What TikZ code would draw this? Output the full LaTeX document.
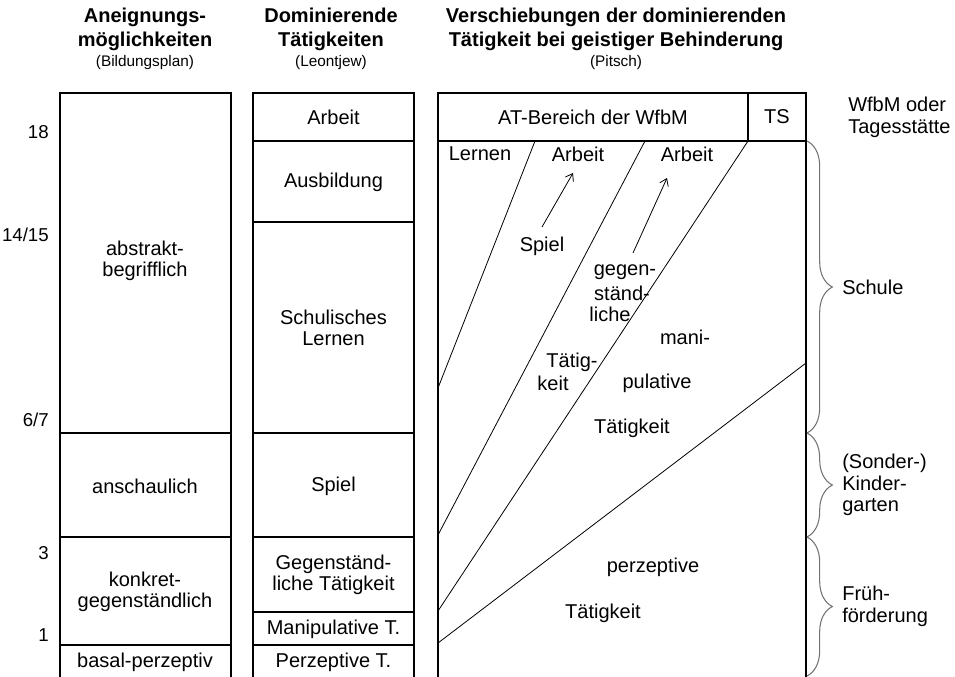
\documentclass[tikz,border=0pt]{standalone}
\usepackage{fontspec}
\setmainfont{Liberation Sans}
\usetikzlibrary{arrows.meta,decorations.pathreplacing}
\begin{document}
\begin{tikzpicture}[x=0.75pt,y=-0.75pt,
  txt/.style={inner sep=0pt, align=center, font=\fontsize{15}{16}\selectfont},
  hdr/.style={inner sep=0pt, align=center, font=\bfseries\fontsize{15}{18}\selectfont},
  subhdr/.style={inner sep=0pt, font=\fontsize{11.5}{13}\selectfont},
  num/.style={inner sep=0pt, anchor=east, font=\fontsize{14}{16}\selectfont},
  side/.style={inner sep=0pt, anchor=west, align=left, font=\fontsize{15}{16.3}\selectfont},
  frame/.style={line width=0.9pt},
  diag/.style={line width=0.6pt},
  arr/.style={line width=0.6pt,-{Straight Barb[length=5pt,width=7pt]}},
  brc/.style={decorate, decoration={brace,amplitude=19pt}, line width=0.8pt, draw=black!55},
]
\useasboundingbox (0,0) rectangle (955,677);

% headers
\node[hdr] (h1) at (145,29) {Aneignungs-\\möglichkeiten};
\node[subhdr] (s1) at (145,63) {(Bildungsplan)};
\node[hdr] (h2) at (331,29) {Dominierende\\Tätigkeiten};
\node[subhdr] (s2) at (331,63) {(Leontjew)};
\node[hdr] (h3) at (616,29) {Verschiebungen der dominierenden\\Tätigkeit bei geistiger Behinderung};
\node[subhdr] (s3) at (616,63) {(Pitsch)};

% age numbers
\node[num] (n18) at (49,132) {18};
\node[num] (n14) at (49,235) {14/15};
\node[num] (n6) at (49,420) {6/7};
\node[num] (n3) at (49,553) {3};
\node[num] (n1) at (49,635) {1};

% column 1
\draw[frame] (60,677) |- (231,93) -- (231,677);
\draw[frame] (60,433) -- (231,433);
\draw[frame] (60,537) -- (231,537);
\draw[frame] (60,645) -- (231,645);
\node[txt] (c1a) at (145,261) {abstrakt-\\begrifflich};
\node[txt] (c1b) at (145,486) {anschaulich};
\node[txt] (c1c) at (145,592) {konkret-\\gegenständlich};
\node[txt] (c1d) at (145,662) {basal-perzeptiv};

% column 2
\draw[frame] (253,677) |- (414,93) -- (414,677);
\foreach \yy in {141,222,433,537,612,645}
  \draw[frame] (253,\yy) -- (414,\yy);
\node[txt] (c2a) at (333.5,117) {Arbeit};
\node[txt] (c2b) at (333.5,182) {Ausbildung};
\node[txt] (c2c) at (333.5,328) {Schulisches\\Lernen};
\node[txt] (c2d) at (333.5,486) {Spiel};
\node[txt] (c2e) at (333.5,575) {Gegenständ-\\liche Tätigkeit};
\node[txt] (c2f) at (333.5,629) {Manipulative T.};
\node[txt] (c2g) at (333.5,662) {Perzeptive T.};

% column 3
\draw[frame] (438,677) |- (806,93) -- (806,677);
\draw[frame] (438,141) -- (806,141);
\draw[frame] (748,93) -- (748,141);
\node[txt] (at) at (593,117) {AT-Bereich der WfbM};
\node[txt] (ts) at (777,117) {TS};

\coordinate (l1b) at (438,388); \coordinate (l1t) at (535,141);
\coordinate (l2b) at (438,535); \coordinate (l2t) at (645,141);
\coordinate (l3b) at (438,611); \coordinate (l3t) at (748,141);
\coordinate (l4b) at (438,643); \coordinate (l4t) at (806,363);
\draw[diag] (l1b) -- (l1t);
\draw[diag] (l2b) -- (l2t);
\draw[diag] (l3b) -- (l3t);
\draw[diag] (l4b) -- (l4t);

\node[txt] (lern) at (480,154) {Lernen};
\node[txt] (arb1) at (578,154) {Arbeit};
\node[txt] (arb2) at (687,154) {Arbeit};
\node[txt] (spiel) at (542,246) {Spiel};
\coordinate (a1s) at (542,227); \coordinate (a1e) at (573,173);
\coordinate (a2s) at (633,253); \coordinate (a2e) at (667,178);
\draw[arr] (a1s) -- (a1e);
\draw[arr] (a2s) -- (a2e);

\node[txt] (g1) at (625,272) {gegen-};
\node[txt] (g2) at (622,293) {ständ-};
\node[txt] (g3) at (610,314) {liche};
\node[txt] (g4) at (572,362) {Tätig-};
\node[txt] (g5) at (553,383) {keit};
\node[txt] (m1) at (685,337) {mani-};
\node[txt] (m2) at (657,383) {pulative};
\node[txt] (m3) at (632,428) {Tätigkeit};
\node[txt] (p1) at (653,567) {perzeptive};
\node[txt] (p2) at (603,613) {Tätigkeit};

% braces
\coordinate (b0) at (807,141);
\coordinate (b1) at (807,433);
\coordinate (b2) at (807,537);
\coordinate (b3) at (807,676);
\draw[brc] (b0) -- (b1);
\draw[brc] (b1) -- (b2);
\draw[brc] (b2) -- (b3);

\node[side] (r0) at (848,117) {WfbM oder\\Tagesstätte};
\node[side] (r1) at (842,287) {Schule};
\node[side] (r2) at (842,485) {(Sonder-)\\Kinder-\\garten};
\node[side] (r3) at (842,606) {Früh-\\förderung};
\end{tikzpicture}
\end{document}
